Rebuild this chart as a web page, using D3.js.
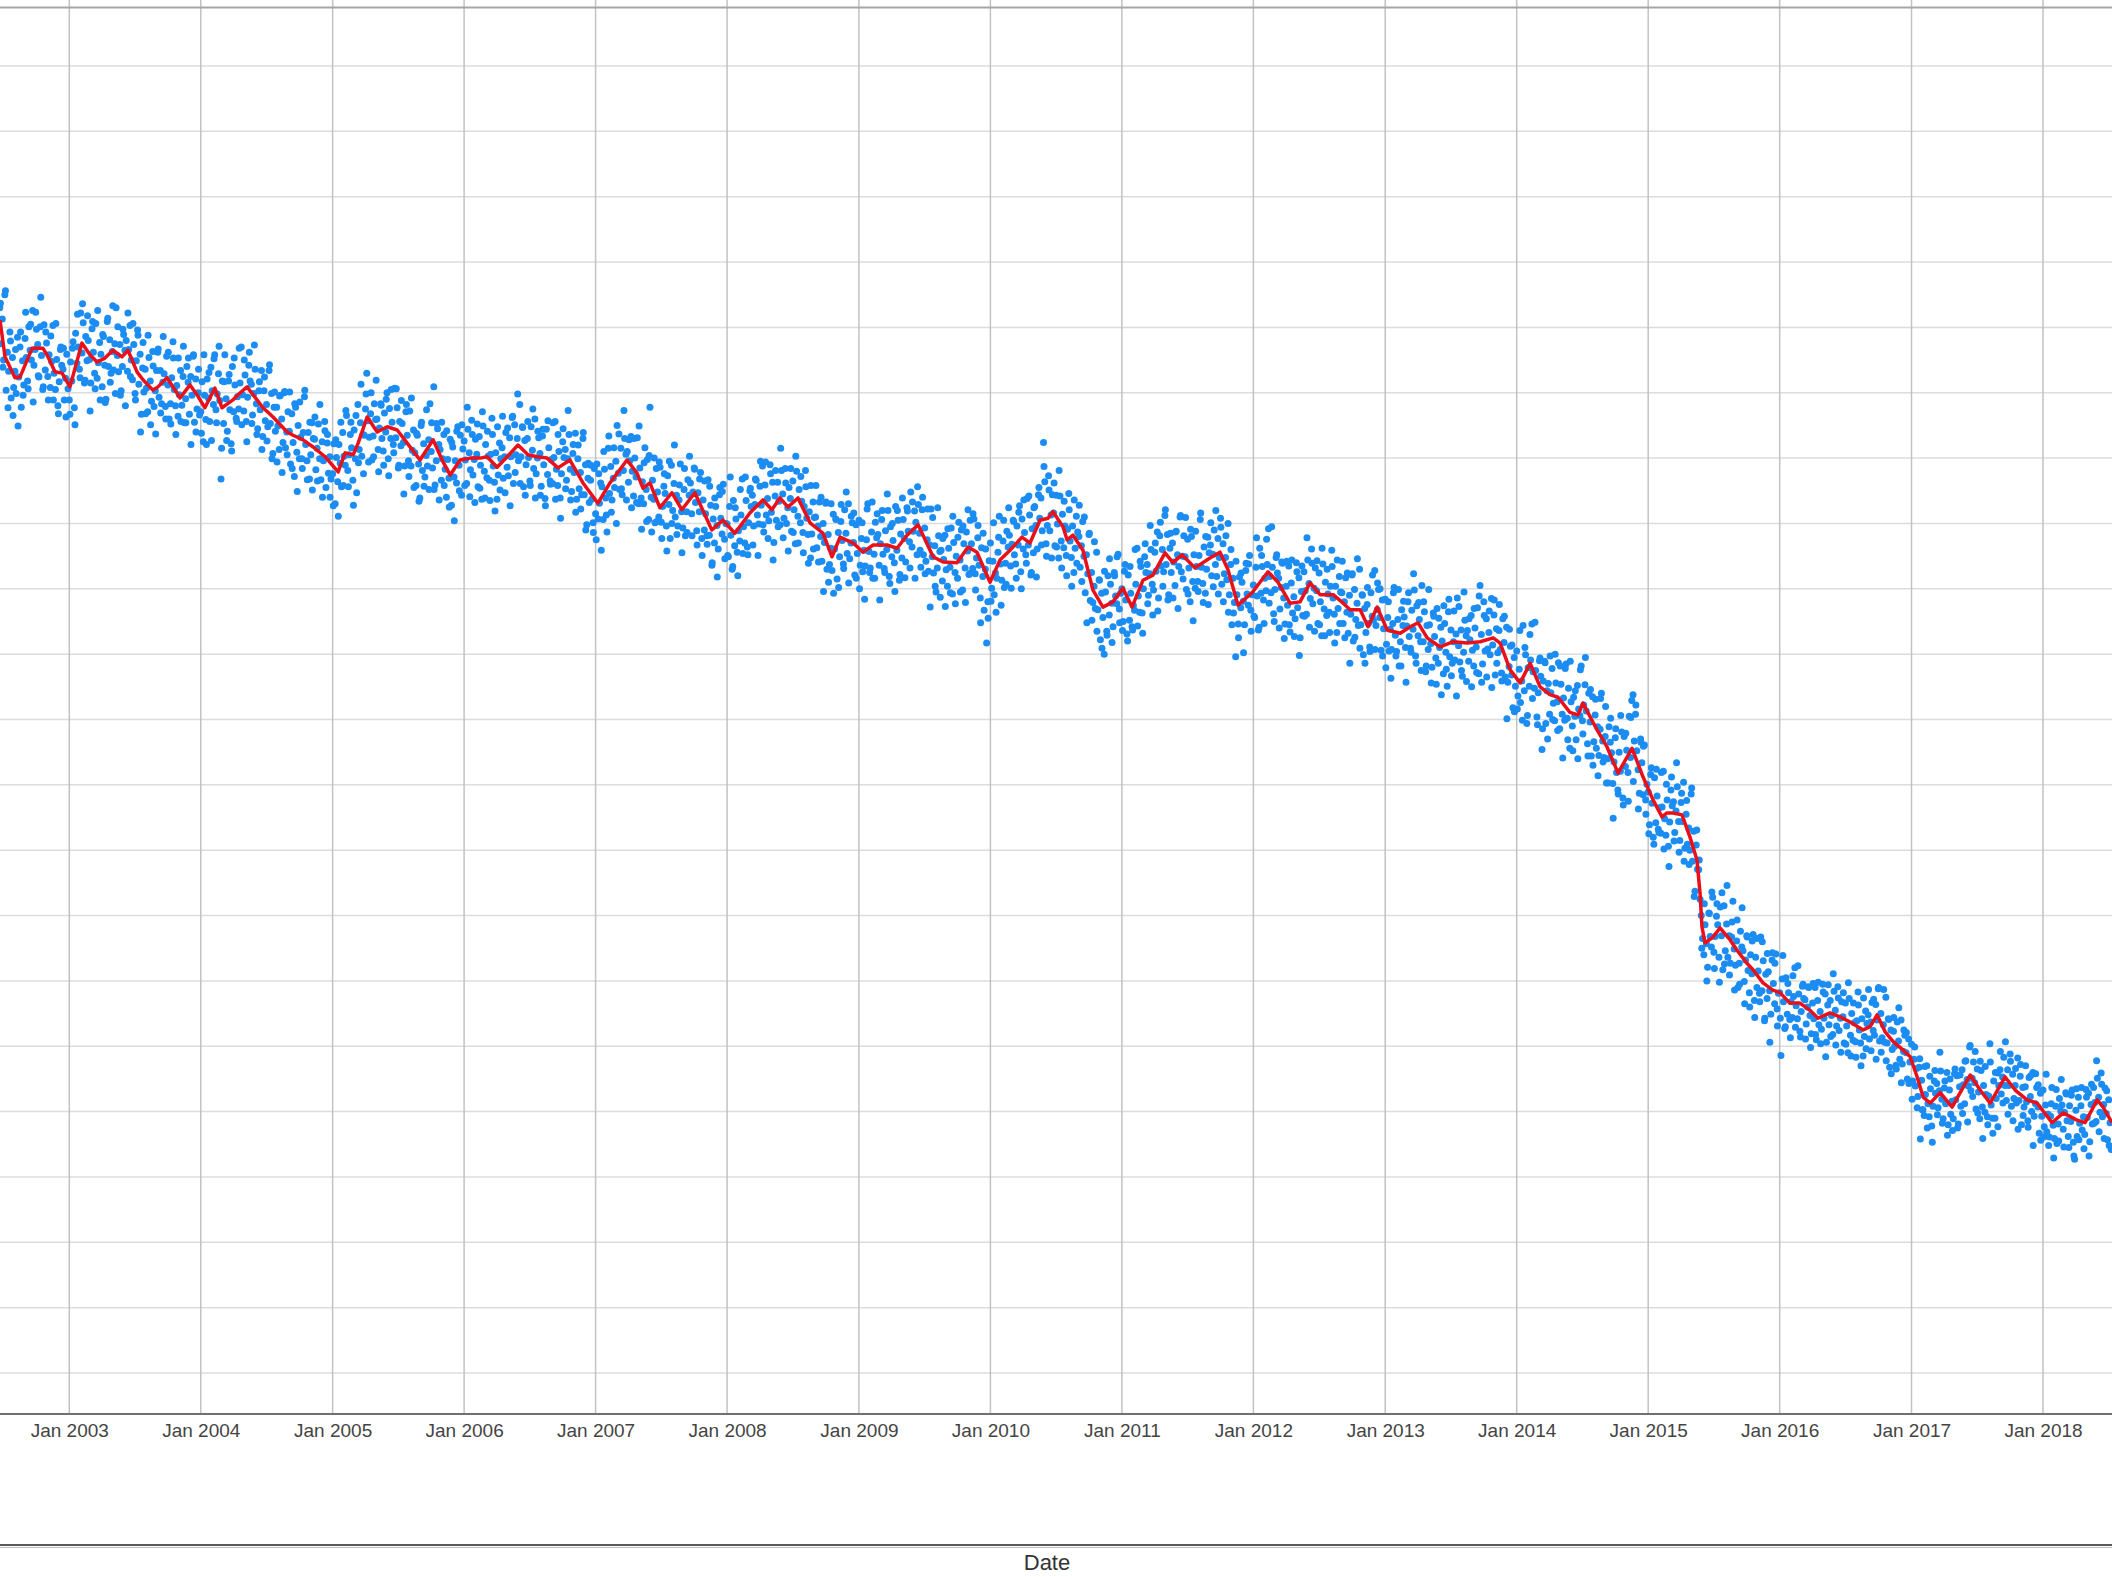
<!DOCTYPE html>
<html><head><meta charset="utf-8">
<script src="https://cdn.jsdelivr.net/npm/d3@7"></script>
<style>html,body{margin:0;padding:0;background:#fff;overflow:hidden}</style>
</head><body>
<svg id="chart" width="2112" height="1577"></svg>
<script>
// ---------------- DATA ----------------
const xTickDates = ["2003-01-01","2004-01-01","2005-01-01","2006-01-01","2007-01-01","2008-01-01","2009-01-01","2010-01-01","2011-01-01","2012-01-01","2013-01-01","2014-01-01","2015-01-01","2016-01-01","2017-01-01","2018-01-01"];
const yGridValues = [10,20,30,40,50,60,70,80,90,100,110,120,130,140,150,160,170,180,190,200,210];
const xAxisTitle = "Date";

// red trend line: decimal year / value
const redYears = [
2002.473,2002.511,2002.587,2002.625,2002.717,2002.800,2002.830,2002.891,2002.945,2003.005,
2003.096,2003.157,2003.211,2003.271,2003.332,2003.401,2003.446,2003.515,2003.560,2003.636,
2003.674,2003.743,2003.789,2003.842,2003.918,2003.971,2004.031,2004.107,2004.161,2004.244,
2004.282,2004.351,2004.472,2004.548,2004.655,2004.700,2004.776,2004.852,2004.944,2005.042,
2005.095,2005.156,2005.194,2005.263,2005.339,2005.415,2005.491,2005.567,2005.665,2005.764,
2005.833,2005.894,2005.970,2006.046,2006.122,2006.175,2006.251,2006.327,2006.410,2006.486,
2006.555,2006.631,2006.714,2006.805,2006.904,2007.018,2007.109,2007.239,2007.315,2007.360,
2007.413,2007.489,2007.580,2007.656,2007.755,2007.884,2007.968,2008.059,2008.173,2008.272,
2008.340,2008.401,2008.462,2008.538,2008.629,2008.728,2008.796,2008.857,2008.956,2009.032,
2009.108,2009.214,2009.290,2009.366,2009.450,2009.564,2009.640,2009.746,2009.830,2009.898,
2009.997,2010.073,2010.149,2010.240,2010.301,2010.377,2010.438,2010.476,2010.552,2010.583,
2010.628,2010.704,2010.780,2010.856,2010.932,2011.008,2011.077,2011.160,2011.236,2011.328,
2011.388,2011.457,2011.556,2011.670,2011.746,2011.807,2011.883,2011.990,2012.111,2012.187,
2012.278,2012.354,2012.430,2012.506,2012.605,2012.681,2012.734,2012.810,2012.870,2012.939,
2013.015,2013.114,2013.190,2013.250,2013.319,2013.418,2013.517,2013.623,2013.722,2013.821,
2013.874,2013.950,2014.026,2014.102,2014.178,2014.253,2014.314,2014.405,2014.466,2014.504,
2014.611,2014.687,2014.771,2014.877,2014.961,2015.037,2015.105,2015.143,2015.189,2015.257,
2015.318,2015.371,2015.394,2015.409,2015.432,2015.493,2015.546,2015.622,2015.675,2015.751,
2015.797,2015.873,2015.949,2016.002,2016.078,2016.154,2016.230,2016.291,2016.382,2016.458,
2016.534,2016.633,2016.686,2016.739,2016.800,2016.861,2016.937,2016.990,2017.043,2017.089,
2017.142,2017.218,2017.309,2017.370,2017.446,2017.522,2017.598,2017.712,2017.788,2017.879,
2017.955,2018.069,2018.153,2018.259,2018.320,2018.412,2018.457,2018.525];
const redValues = [
171.1,165.5,162.3,162.4,166.8,166.8,165.8,163.2,163.0,160.9,
167.6,165.8,164.7,165.3,166.5,165.5,166.5,163.2,162.0,160.4,
160.9,162.3,160.9,159.2,161.2,159.7,157.7,160.7,157.7,158.9,
159.7,160.9,157.7,156.3,154.0,153.5,152.8,151.7,150.2,147.9,
150.8,150.5,152.3,156.3,154.0,154.8,154.3,152.3,149.7,152.8,
149.7,147.4,149.7,150.0,150.0,150.2,148.6,150.2,152.0,150.5,
150.2,150.0,148.5,149.7,146.2,143.1,146.2,149.7,147.7,145.4,
146.2,142.4,144.7,142.1,144.7,139.0,140.5,138.5,141.6,143.6,
142.1,143.9,142.5,143.9,140.1,138.5,134.9,137.9,137.0,135.6,
136.7,136.7,136.2,138.2,139.8,134.9,134.1,134.0,136.4,135.6,
131.0,134.4,135.9,137.9,137.0,140.5,140.8,141.8,139.5,137.5,
138.2,135.9,129.8,127.2,128.0,130.1,127.2,131.3,132.1,135.5,
134.0,135.2,133.2,134.7,135.6,132.9,127.5,129.4,132.6,131.0,
127.8,128.0,130.9,129.1,129.1,127.8,126.8,126.8,124.2,127.2,
123.7,123.2,124.2,124.8,122.5,121.1,121.9,121.7,121.9,122.5,
121.7,117.6,115.6,118.6,115.0,113.8,113.4,111.1,110.7,112.5,
108.4,105.8,101.8,105.6,101.2,97.7,95.1,95.7,95.7,95.4,
92.0,88.5,83.5,78.3,75.8,76.7,78.1,76.3,74.7,72.7,
71.7,69.7,68.6,68.2,66.6,66.6,65.5,64.3,65.1,64.5,
63.7,62.5,63.0,64.8,62.2,60.7,59.4,58.4,55.3,52.2,
51.3,52.9,50.7,52.9,55.6,53.3,51.3,55.3,53.3,51.8,
51.3,48.3,49.8,48.7,48.3,51.8,50.7,48.3];

// blue scatter readings, one array per year (readings every ~3.5 days)
const dotStarts = ["2002-06-22","2003-01-01","2004-01-01","2005-01-01","2006-01-01","2007-01-01","2008-01-01","2009-01-01","2010-01-01","2011-01-01","2012-01-01","2013-01-01","2014-01-01","2015-01-01","2016-01-01","2017-01-01","2018-01-01"];
const dots2002 = [173.0,167.5,171.3,165.0,175.0,160.4,166.2,163.3,169.3,159.2,165.4,160.8,163.3,159.9,168.5,162.4,167.0,157.8,164.9,161.2,168.3,165.4,161.8,170.1,166.5,165.0,172.6,164.2,166.6,169.7,167.4,162.4,170.1,165.7,160.5,170.4,163.5,167.6,162.5,165.8,160.8,164.8,170.3,163.0,160.5,165.1,158.0,161.7,166.6,164.2,163.6,158.9,162.2,165.9,160.6];
const dots2003 = [158.9,164.7,161.8,167.8,157.7,169.1,164.5,167.0,163.6,172.2,166.1,170.7,161.5,168.6,164.9,168.0,165.1,161.5,169.8,166.2,163.0,170.6,162.2,164.6,167.7,165.9,160.9,168.6,164.2,159.0,170.9,164.0,168.1,163.0,166.3,163.5,167.5,173.0,165.7,163.2,167.4,160.3,164.0,168.9,166.5,168.0,163.3,166.6,170.3,165.0,162.0,167.4,159.9,164.9,169.6,161.3,165.9,156.7,163.8,160.1,163.6,160.7,157.1,165.4,161.8,158.7,166.3,157.9,160.3,163.4,166.2,159.3,163.4,158.3,161.6,162.9,157.9,165.6,161.2,156.0,158.3,162.3,167.8,160.5,158.0,161.1,156.4,159.7,163.4,158.1,162.5,155.4,159.1,164.0,161.6,156.7,162.5,159.6,165.6,155.5,162.1,157.5,160.0,156.6];
const dots2004 = [157.1,161.7,152.5,159.6,155.9,162.1,159.2,155.6,163.9,160.3,158.2,165.8,157.4,159.8,162.9,158.8,146.8,161.8,155.3,165.8,159.1,154.1,161.8,157.4,152.2,164.0,157.1,161.2,156.1,159.4,157.5,161.5,167.0,159.7,157.2,162.7,155.6,159.3,164.2,161.8,161.3,156.6,159.9,163.6,158.3,154.5,160.3,157.4,163.4,153.3,160.3,155.7,158.2,154.8,163.4,155.3,159.9,150.7,157.8,154.1,157.8,154.9,151.3,159.6,156.0,152.4,160.0,151.6,154.0,157.1,154.1,149.1,156.8,152.4,147.2,157.8,150.9,155.0,149.9,153.2,149.9,153.9,159.4,152.1,149.6,153.9,146.8,150.5,155.4,153.0,152.9,148.2,151.5,155.2,149.9,146.7,152.5,149.6,155.6,145.5,152.3,147.7,150.2,146.8];
const dots2005 = [147.6,152.2,143.0,150.1,146.4,152.1,149.2,145.6,153.9,150.3,148.9,156.5,148.1,150.5,153.6,151.6,146.6,154.3,149.9,144.7,158.2,151.3,155.4,150.3,153.6,153.5,157.5,163.0,155.7,153.2,156.8,149.7,153.4,158.3,155.9,156.0,151.3,154.6,158.3,153.0,151.1,156.9,154.0,160.0,149.9,157.6,153.0,155.5,152.1,160.7,153.1,157.7,148.5,155.6,151.9,155.3,152.4,148.8,157.1,153.5,149.6,157.2,148.8,151.2,154.3,150.8,145.8,153.5,149.1,143.9,155.0,148.1,152.2,147.1,150.4,148.8,152.8,158.3,151.0,148.5,160.9,145.9,149.6,154.5,152.1,151.3,146.6,149.9,153.6,148.3,144.0,149.8,146.9,152.9,142.8,151.7,147.1,149.6,146.2,154.8,148.9,153.5,144.3,151.4];
const dots2006 = [152.6,149.7,146.1,154.4,150.8,148.2,155.8,147.4,149.8,152.9,150.6,145.6,153.3,148.9,143.7,154.9,148.0,152.1,147.0,150.3,146.6,150.6,156.1,148.8,146.3,150.8,143.7,147.4,152.3,149.9,151.6,146.9,150.2,153.9,148.6,147.3,153.1,150.2,156.2,146.1,155.1,150.5,153.0,149.6,158.2,150.2,154.8,145.6,152.7,149.0,153.0,150.1,146.5,154.8,151.2,148.4,156.0,147.6,150.0,153.1,150.7,145.7,153.4,149.0,143.8,154.4,147.5,151.6,146.5,149.8,146.1,150.1,155.6,148.3,145.8,151.0,143.9,147.6,152.5,150.1,151.3,146.6,149.9,153.6,148.3,144.9,150.7,147.8,153.8,143.7,149.9,145.3,147.8,144.4,153.0,144.4,149.0,139.8,146.9,143.2,146.6,143.7,140.1,148.4];
const dots2007 = [141.5,149.1,140.7,143.1,146.2,145.6,140.6,148.3,143.9,138.7,151.5,144.6,148.7,143.6,146.9,145.5,149.5,155.0,147.7,145.2,151.5,144.4,148.1,153.0,150.6,151.0,146.3,149.6,153.3,148.0,144.2,150.0,147.1,153.1,143.0,148.5,143.9,146.4,143.0,151.6,145.2,149.8,140.6,157.8,144.0,146.6,143.7,140.1,148.4,144.8,141.0,148.6,140.2,142.6,145.7,144.6,139.6,147.3,142.9,137.7,148.9,142.0,146.1,141.0,144.3,139.6,143.6,149.1,141.8,139.3,145.2,138.1,141.8,146.7,144.3,146.2,141.5,144.8,148.5,143.2,138.9,144.7,141.8,147.8,137.7,143.6,139.0,141.5,138.1,146.7,138.2,142.8,133.6,140.7,137.0,142.6,139.7,136.1,144.4,140.8,138.4,146.0,137.6,140.0];
const dots2008 = [139.9,134.9,142.6,138.2,133.0,143.5,136.6,140.7,135.6,138.9,137.3,141.3,146.8,139.5,137.0,143.5,136.4,140.1,145.0,142.6,144.3,139.6,142.9,146.6,141.3,139.9,145.7,142.8,148.8,138.7,145.9,141.3,143.8,140.4,149.0,141.7,146.3,137.1,144.2,140.5,146.3,143.4,139.8,148.1,144.5,140.8,148.4,140.0,142.4,145.5,143.8,138.8,146.5,142.1,136.9,148.0,141.1,145.2,140.1,143.4,138.6,142.6,148.1,140.8,138.3,141.8,134.7,138.4,143.3,140.9,141.0,136.3,139.6,143.3,138.0,134.2,140.0,137.1,143.1,133.0,138.3,133.7,136.2,132.8,141.4,136.1,140.7,131.5,138.6,134.9,140.3,137.4,133.8,142.1,138.5,135.4,143.0,134.6,137.0,140.1,137.1,132.1,139.8,135.4];
const dots2009 = [140.5,133.6,137.7,132.6,135.9,133.5,137.5,143.0,135.7,133.2,138.7,131.6,135.3,140.2,137.8,138.3,133.6,136.9,140.6,135.3,133.1,138.9,136.0,142.0,131.9,139.5,134.9,137.4,134.0,142.6,135.9,140.5,131.3,138.4,134.7,140.6,137.7,134.1,142.4,138.8,137.2,144.8,136.4,138.8,141.9,140.2,135.2,142.9,138.5,133.3,142.1,135.2,139.3,134.2,137.5,132.7,136.7,142.2,134.9,132.4,136.6,129.5,133.2,138.1,135.7,135.9,131.2,134.5,138.2,132.9,130.4,136.2,133.3,139.3,129.2,137.1,132.5,135.0,131.6,140.2,134.4,139.0,129.8,136.9,133.2,138.7,135.8,132.2,140.5,136.9,133.1,140.7,132.3,134.7,137.8,133.6,128.6,136.3,131.9,126.7,133.0,121.7,128.0,134.3];
const dots2010 = [137.0,130.1,134.2,129.1,132.4,131.6,135.6,141.1,133.8,131.3,137.3,130.2,133.9,138.8,136.4,138.2,133.5,136.8,140.5,135.2,133.8,139.6,136.7,142.7,132.6,140.7,136.1,138.6,135.2,143.8,136.7,141.3,132.1,139.2,135.5,142.6,139.7,136.1,144.4,140.8,143.9,138.9,152.4,146.4,136.9,139.7,147.3,138.9,141.3,144.4,141.6,136.6,144.3,139.9,134.7,144.2,137.3,141.4,136.3,139.6,135.1,139.1,144.6,137.3,134.8,139.6,132.5,136.2,141.1,138.7,138.0,133.3,136.6,140.3,135.0,129.4,135.2,132.3,138.3,128.2,132.5,127.9,130.4,127.0,135.6,126.8,131.4,122.2,129.3,125.6,120.0,129.5,123.5,132.0,126.0,130.7,127.8,124.2,132.5,128.9,127.7,135.3,126.9,129.3];
const dots2011 = [130.0,125.0,132.7,128.3,123.1,132.1,125.2,129.3,124.2,127.5,126.7,130.7,136.2,128.9,126.4,133.4,126.3,130.0,134.9,132.5,133.7,129.0,132.3,136.0,130.7,129.8,135.6,132.7,138.7,128.6,138.1,133.5,136.0,132.6,141.2,133.7,138.3,129.1,136.2,132.5,137.0,134.1,130.5,138.8,135.2,133.4,141.0,132.6,135.0,138.1,134.9,129.9,137.6,133.2,128.0,138.0,131.1,135.2,130.1,133.4,131.1,135.1,140.6,133.3,130.8,136.4,129.3,133.0,137.9,135.5,136.7,132.0,135.3,139.0,133.7,131.9,137.7,134.8,140.8,130.7,136.9,132.3,134.8,131.4,140.0,129.1,133.7,124.5,131.6,127.9,119.6,129.1,124.6,131.8,127.1,131.0,128.1,124.5,132.8,129.2,127.5,135.1,126.7,129.1];
const dots2012 = [130.6,125.6,133.3,128.9,123.7,136.2,129.3,133.4,128.3,131.6,129.7,133.7,139.2,131.9,129.4,133.3,126.2,129.9,134.8,132.4,131.6,126.9,130.2,133.9,128.6,124.6,130.4,127.5,133.5,123.4,130.9,126.3,128.8,125.4,134.0,127.1,131.7,122.5,129.6,125.9,132.6,129.7,126.1,134.4,130.8,128.5,136.1,127.7,130.1,133.2,129.7,124.7,132.4,128.0,122.8,133.8,126.9,131.0,125.9,129.2,126.4,130.4,135.9,128.6,126.1,130.4,123.3,127.0,131.9,129.5,129.4,124.7,128.0,131.7,126.4,123.2,129.0,126.1,132.1,122.0,129.9,125.3,127.8,124.4,133.0,124.5,129.1,119.9,127.0,123.3,127.6,124.7,121.1,129.4,125.8,125.2,132.8,124.4,126.8,129.9,125.6,120.6,128.3,123.9];
const dots2013 = [128.4,121.5,125.6,120.5,123.8,120.7,124.7,130.2,122.9,120.4,125.3,118.2,121.9,126.8,124.4,125.7,121.0,124.3,128.0,122.7,120.9,126.7,123.8,129.8,119.7,127.4,122.8,125.3,121.9,130.5,121.9,126.5,117.3,124.4,120.7,124.5,121.6,118.0,126.3,122.7,119.4,127.0,118.6,121.0,124.1,122.0,117.0,124.7,120.3,115.1,126.5,119.6,123.7,118.6,121.9,119.1,123.1,128.6,121.3,118.8,123.7,116.6,120.3,125.2,122.8,123.6,118.9,122.2,125.9,120.6,118.2,124.0,121.1,127.1,117.0,130.5,123.0,118.5,128.0,120.5,125.4,120.8,123.3,119.9,128.5,121.4,126.0,116.8,123.9,120.2,123.6,120.7,117.1,125.4,121.8,116.5,124.1,115.7,118.1,121.2,116.8,111.8,119.5,115.1];
const dots2014 = [120.5,113.6,117.7,112.6,115.9,124.4,114.4,119.9,109.4,117.9,115.1,119.1,124.6,117.3,114.8,117.5,110.4,114.1,119.0,116.6,105.4,115.9,118.9,109.4,114.4,115.5,110.8,114.1,117.8,112.5,109.8,115.6,112.7,118.7,108.6,115.4,110.8,113.3,109.9,118.5,110.2,114.8,105.6,112.7,109.0,113.4,110.5,106.9,115.2,111.6,110.6,118.2,109.8,112.2,115.3,111.3,106.3,114.0,109.6,104.4,113.5,106.6,110.7,105.6,108.9,104.5,108.5,114.0,106.7,104.2,107.4,100.3,104.0,108.9,106.5,104.9,100.2,103.5,107.2,101.9,99.2,105.0,102.1,108.1,98.0,107.4,102.8,105.3,101.9,110.5,104.2,112.9,113.8,106.7,110.8,105.2,102.3,98.7,107.0,103.4,98.5,106.1,97.7,100.1];
const dots2015 = [98.9,93.9,101.6,97.2,92.0,101.1,94.2,98.3,93.2,96.5,92.6,96.6,102.1,94.8,92.3,97.7,90.6,94.3,99.2,96.8,97.4,92.7,96.0,99.7,94.4,91.5,97.3,94.4,100.4,90.3,95.5,90.9,93.4,90.0,98.6,88.3,92.9,83.7,90.8,87.1,87.0,82.5,80.0,76.5,74.0,78.6,75.7,72.1,80.4,76.8,75.2,82.8,74.4,76.8,79.9,78.6,73.6,81.3,76.9,71.7,81.5,74.6,78.7,73.6,76.9,72.7,76.7,82.2,74.9,72.4,76.1,69.0,72.7,77.6,75.2,74.6,69.9,73.2,76.9,71.6,68.2,74.0,71.1,77.1,67.0,73.6,69.0,71.5,68.1,76.7,68.5,73.1,63.9,71.0,67.3,71.4,68.5,64.9,73.2,69.6,66.5,74.1,65.7,68.1];
const dots2016 = [68.2,58.6,70.3,66.8,62.7,70.5,64.9,68.2,64.1,66.8,64.4,67.6,72.0,66.2,64.2,68.0,62.3,65.3,69.2,67.3,67.1,63.4,66.0,69.0,64.7,61.9,66.6,64.2,69.0,61.0,67.0,63.3,65.3,62.6,69.5,64.3,68.0,60.6,66.3,63.3,67.0,64.7,61.8,68.4,65.5,63.1,69.1,62.4,64.3,66.8,64.5,60.5,66.6,63.1,59.0,67.3,61.7,65.0,60.9,63.6,60.7,63.9,68.3,62.5,60.5,64.2,58.5,61.5,65.4,63.5,64.8,61.1,63.7,66.7,62.4,61.7,66.4,64.0,68.8,60.8,65.0,61.3,63.3,60.6,67.5,60.5,64.2,56.8,62.5,59.5,62.3,60.0,57.1,63.7,60.8,58.0,64.0,57.3,59.2,61.7,59.0,55.0,61.1,57.6];
const dots2017 = [60.3,54.7,58.0,53.9,56.6,52.3,56.8,45.8,54.8,50.3,49.4,52.6,57.0,51.2,49.2,53.5,47.8,50.8,54.7,52.8,54.3,50.6,53.2,56.2,51.9,48.9,53.6,51.2,56.0,48.0,53.3,49.6,51.6,48.9,55.8,51.8,55.5,48.1,53.8,50.8,56.4,54.1,51.2,57.8,54.9,53.9,59.9,53.2,55.1,57.6,54.4,50.4,56.5,53.0,48.9,56.3,50.7,54.0,49.9,52.6,49.2,52.4,60.4,51.0,49.0,54.7,49.0,52.0,55.9,54.0,56.4,52.7,55.3,58.3,54.0,51.7,56.4,54.0,58.8,50.8,55.7,52.0,54.0,51.3,58.2,51.7,55.4,48.0,53.7,50.7,53.8,51.5,48.6,55.2,52.3,50.0,56.0,49.3,51.2,53.7,50.7,46.7,52.8,49.3];
const dots2018 = [53.3,47.7,51.0,46.9,49.6,46.1,49.3,53.7,47.9,45.9,50.8,45.1,48.1,52.0,50.1,51.0,47.3,49.9,52.9,48.6,46.2,50.9,48.5,53.3,45.3,42.7,50.2,46.2,52.2,48.2,50.9,47.2,49.2,46.5,53.4,49.1,52.8,45.4,51.1,48.1,53.7,51.4,48.5,55.1,52.2,49.9,55.9,49.2,51.1,53.6,49.7,45.7,51.8,48.3,44.2];

// outer scatter readings (weekly, offset 1.75 days from the year starts)
const wide2002 = [173.7,163.9,175.6,157.7,167.9,156.5,166.6,154.9,169.3,159.6,172.3,160.6,170.5,158.6,172.3,162.6,174.6,160.9,169.3,158.9,168.7,158.9,170.6,156.8,167.0,166.8,156.3];
const wide2003 = [156.7,166.8,155.1,172.0,162.3,173.6,161.9,171.8,157.2,170.9,160.6,172.6,158.9,168.9,158.5,171.4,161.6,173.3,159.9,170.1,159.6,169.7,158.0,172.2,162.5,170.6,158.9,168.8,154.0,167.7,156.8,168.8,155.1,164.1,153.7,166.7,156.9,168.6,156.0,166.2,155.2,165.3,153.6,165.3,155.6,167.1,155.4,165.3,152.1,165.8,154.0,163.6];
const wide2004 = [153.8,165.8,152.1,163.1,152.7,165.2,155.4,167.1,151.5,161.7,152.7,162.8,151.1,165.3,155.6,166.8,155.1,165.0,152.5,166.2,155.3,167.3,153.6,161.7,151.3,162.4,152.6,164.3,149.9,160.1,149.4,159.5,147.8,160.2,150.5,160.1,148.4,158.3,144.9,158.6,148.4,160.4,146.7,155.5,145.1,156.3,146.5,158.2,144.0,154.2,153.6,144.0];
const wide2005 = [142.7,152.8,141.1,155.5,145.8,157.3,145.6,155.5,142.8,156.5,149.3,161.3,147.6,159.8,149.4,160.0,150.2,161.9,147.9,158.1,148.9,159.0,147.3,160.5,150.8,160.6,148.9,158.8,144.5,158.2,147.2,159.2,145.5,153.8,143.4,155.5,145.7,157.4,145.2,155.4,145.2,155.3,143.6,155.5,145.8,154.2,142.5,152.4,140.4,154.1,145.0,155.1];
const wide2006 = [145.8,157.8,144.1,153.6,143.2,155.2,145.4,157.1,143.9,154.1,143.5,153.6,141.9,154.8,145.1,156.4,144.7,154.6,142.7,156.4,147.8,159.8,146.1,154.7,144.3,155.6,145.8,157.5,143.9,154.1,144.3,154.4,142.7,155.7,146.0,155.4,143.7,153.6,140.8,154.5,145.3,157.3,143.6,152.1,141.7,152.0,142.2,153.9,139.0,149.2,148.9,138.6];
const wide2007 = [137.5,147.6,135.9,151.0,141.3,153.4,141.7,151.6,140.0,153.7,145.3,157.3,143.6,152.8,142.4,153.0,143.2,154.9,139.1,149.3,140.3,150.4,138.7,150.0,140.3,149.4,137.7,147.6,135.8,149.5,140.0,152.0,138.3,145.9,135.5,148.4,138.6,150.3,138.1,148.3,136.7,146.8,135.1,146.5,136.8,145.7,134.0,143.9,131.8,145.5,144.9,134.6];
const wide2008 = [135.1,147.1,133.4,142.4,132.0,145.2,135.4,147.1,135.2,145.4,136.7,146.8,135.1,149.5,139.8,149.4,137.7,147.6,134.4,148.1,139.5,151.5,137.8,146.2,135.8,148.4,138.6,150.3,137.0,147.2,135.5,145.6,133.9,145.8,136.1,145.8,134.1,144.0,129.6,143.3,131.0,143.0,129.3,140.6,130.2,142.9,133.1,144.8,130.9,141.1,141.6,131.6];
const wide2009 = [130.0,140.1,128.4,142.2,132.5,143.3,131.6,141.5,128.3,142.0,132.5,144.5,130.8,140.0,129.6,142.0,132.2,143.9,131.7,141.9,133.2,143.3,131.6,145.6,135.9,144.0,132.3,142.2,127.2,140.9,130.4,142.4,128.7,137.7,127.3,139.2,129.4,141.1,127.7,137.9,129.5,139.6,127.9,142.1,132.4,141.5,129.8,139.7,124.8,138.5,136.1,125.5];
const wide2010 = [128.1,140.1,126.4,137.9,127.5,140.5,130.7,142.4,130.1,140.3,131.6,141.7,130.0,143.6,133.9,144.2,132.5,142.4,131.8,145.5,136.7,148.7,135.0,145.1,134.7,146.2,136.4,148.1,133.2,143.4,132.0,142.1,130.4,143.6,133.9,142.8,131.1,141.0,124.8,138.5,125.2,137.2,123.5,131.3,120.9,132.7,122.9,134.6,121.8,132.0,134.9,124.8];
const wide2011 = [123.6,133.7,122.0,133.4,123.7,136.0,124.3,134.2,123.2,136.9,127.7,139.7,126.0,137.0,126.6,140.2,130.4,142.1,128.3,138.5,128.6,138.7,127.0,141.2,131.5,140.9,129.2,139.1,125.1,138.8,129.6,141.6,127.9,138.0,127.6,140.1,130.3,142.0,129.2,139.4,128.0,138.1,126.4,136.0,126.3,134.2,122.5,132.4,120.2,133.9,133.8,123.5];
const wide2012 = [125.8,137.8,124.1,135.1,124.7,137.6,127.8,139.5,125.0,135.2,124.0,134.1,122.4,134.2,124.5,134.4,122.7,132.6,119.8,133.5,125.8,137.8,124.1,133.9,123.5,134.3,124.5,136.2,122.8,133.0,123.3,133.4,121.7,134.4,124.7,134.2,122.5,132.4,118.6,132.3,122.6,134.6,120.9,129.0,118.6,130.2,120.4,132.1,120.7,130.9,130.0,119.7];
const wide2013 = [117.9,128.0,116.3,129.4,119.7,129.9,118.2,128.1,115.7,129.4,120.3,132.3,118.6,127.9,117.5,128.0,118.2,129.9,115.6,125.8,115.4,125.5,113.8,127.4,117.7,128.4,116.7,126.6,113.6,127.3,117.5,129.5,115.8,125.4,115.0,127.0,117.2,128.9,115.7,125.9,116.5,126.6,114.9,128.3,118.6,127.6,115.9,125.8,110.1,123.8,121.4,111.2];
const wide2014 = [111.6,123.6,109.9,121.0,110.6,123.0,113.2,124.9,109.2,119.4,108.6,118.7,107.0,119.7,110.0,120.0,108.3,118.2,104.1,117.8,106.9,118.9,105.2,114.4,104.0,117.6,107.8,119.5,104.4,114.6,103.0,113.1,101.4,113.2,103.5,112.0,100.3,110.2,94.9,108.6,98.6,110.6,96.9,107.9,97.5,110.3,100.5,112.2,96.3,106.5,105.9,95.5];
const wide2015 = [92.5,102.6,90.9,102.4,92.7,101.9,90.2,100.1,87.5,101.2,91.4,103.4,89.7,98.7,88.3,97.6,87.8,99.5,82.9,93.1,88.5,75.0,81.8,70.0,80.3,83.6,71.9,81.8,69.8,83.5,72.6,84.6,70.9,79.0,68.6,79.3,69.5,81.2,66.5,76.7,66.0,76.1,64.4,76.5,66.8,76.0,64.3,74.2,60.6,74.3,72.7,63.1];
const wide2016 = [64.3,73.9,63.0,69.6,61.3,70.8,62.9,72.3,61.4,69.5,61.1,69.1,59.8,69.6,61.8,69.8,60.4,68.3,58.4,69.4,61.5,71.1,60.2,67.4,59.1,68.2,60.3,69.7,58.5,66.6,58.3,66.3,57.0,67.4,59.6,68.7,59.3,67.2,58.0,69.0,59.1,68.7,57.8,64.1,55.8,64.4,56.5,65.9,54.4,62.5,62.1,54.3];
const wide2017 = [51.9,59.9,50.6,58.1,50.3,56.9,47.5,55.4,45.3,56.3,49.5,59.1,48.2,54.7,46.4,55.0,47.1,56.5,47.5,55.6,49.7,57.7,48.4,60.1,52.3,59.2,49.8,57.7,45.9,56.9,48.0,57.6,46.7,56.0,47.7,59.2,51.3,60.7,49.6,57.7,48.6,56.6,47.3,57.2,49.4,57.0,47.6,55.5,44.8,55.8,54.1,45.6];
const wide2018 = [46.1,55.7,44.8,51.2,42.9,53.4,45.5,54.9,44.6,52.7,44.5,52.5,43.2,53.5,45.7,53.7,44.3,52.2,43.2,54.2,48.2,57.8,46.9,54.2,45.9,53.2,44.8];

const dotYears = [dots2002,dots2003,dots2004,dots2005,dots2006,dots2007,dots2008,dots2009,dots2010,dots2011,dots2012,dots2013,dots2014,dots2015,dots2016,dots2017,dots2018];
const wideYears = [wide2002,wide2003,wide2004,wide2005,wide2006,wide2007,wide2008,wide2009,wide2010,wide2011,wide2012,wide2013,wide2014,wide2015,wide2016,wide2017,wide2018];
const readingStepDays = 365 / 104;
const wideStepDays = 7, wideOffsetDays = 1.75;

// ---------------- CHART ----------------
const W = 2112, H = 1577;
const plotTop = 7.5, plotBottom = 1414;
const parse = d3.utcParse("%Y-%m-%d");
const DAY = 864e5;

function fromDecimalYear(d) {
  const yr = Math.floor(d);
  const s = Date.UTC(yr, 0, 1), e = Date.UTC(yr + 1, 0, 1);
  return new Date(s + (d - yr) * (e - s));
}

const redData = redYears.map((d, i) => ({ date: fromDecimalYear(d), value: redValues[i] }));
const dotData = [];
dotYears.forEach((arr, k) => {
  const start = parse(dotStarts[k]).getTime();
  arr.forEach((v, i) => dotData.push({ date: new Date(start + i * readingStepDays * DAY), value: v }));
});
wideYears.forEach((arr, k) => {
  const start = parse(dotStarts[k]).getTime() + wideOffsetDays * DAY;
  arr.forEach((v, i) => dotData.push({ date: new Date(start + i * wideStepDays * DAY), value: v }));
});

const x = d3.scaleUtc()
  .domain([parse("2003-01-01"), parse("2018-01-01")])
  .range([69.3, 2043]);
const y = d3.scaleLinear().domain([10, 210]).range([1373, 66]);

const svg = d3.select("#chart");
svg.append("rect").attr("width", W).attr("height", H).attr("fill", "#fff");

const defs = svg.append("defs");
defs.append("clipPath").attr("id", "plotClip")
  .append("rect").attr("x", 0).attr("y", plotTop).attr("width", W).attr("height", plotBottom - plotTop);

// horizontal gridlines
svg.append("g").selectAll("line").data(yGridValues).join("line")
  .attr("x1", 0).attr("x2", W)
  .attr("y1", d => y(d)).attr("y2", d => y(d))
  .attr("stroke", "#dcdcdc").attr("stroke-width", 1.5);

// vertical gridlines
const tickDates = xTickDates.map(parse);
svg.append("g").selectAll("line").data(tickDates).join("line")
  .attr("x1", d => x(d)).attr("x2", d => x(d))
  .attr("y1", 0).attr("y2", plotBottom)
  .attr("stroke", "#c2c2c2").attr("stroke-width", 1.5);

// top frame line
svg.append("line").attr("x1", 0).attr("x2", W).attr("y1", plotTop).attr("y2", plotTop)
  .attr("stroke", "#a6a6a6").attr("stroke-width", 2);

const plot = svg.append("g").attr("clip-path", "url(#plotClip)");

plot.append("g").selectAll("circle").data(dotData).join("circle")
  .attr("cx", d => x(d.date)).attr("cy", d => y(d.value))
  .attr("r", 3.5).attr("fill", "#1b8cf2");

const line = d3.line().x(d => x(d.date)).y(d => y(d.value));
plot.append("path").datum(redData)
  .attr("d", line).attr("fill", "none")
  .attr("stroke", "#e8101a").attr("stroke-width", 3.5).attr("stroke-linejoin", "round");

// x axis
const xAxis = d3.axisBottom(x).tickValues(tickDates)
  .tickFormat(d3.utcFormat("%b %Y")).tickSize(0).tickPadding(10);
const gx = svg.append("g").attr("transform", `translate(0,${plotBottom})`).call(xAxis);
gx.select(".domain").remove();
gx.selectAll("text").attr("font-family", "'Liberation Sans', Arial, sans-serif")
  .attr("font-size", 19).attr("fill", "#444");

svg.append("line").attr("x1", 0).attr("x2", W).attr("y1", plotBottom).attr("y2", plotBottom)
  .attr("stroke", "#707070").attr("stroke-width", 2);

// lower frame rule and axis title
svg.append("line").attr("x1", 0).attr("x2", W).attr("y1", 1545).attr("y2", 1545)
  .attr("stroke", "#5a5a5a").attr("stroke-width", 2);
svg.append("line").attr("x1", 0).attr("x2", W).attr("y1", 1547.5).attr("y2", 1547.5)
  .attr("stroke", "#bdbdbd").attr("stroke-width", 1.2);
svg.append("text").attr("x", 1047).attr("y", 1570)
  .attr("text-anchor", "middle")
  .attr("font-family", "'Liberation Sans', Arial, sans-serif")
  .attr("font-size", 22).attr("fill", "#333").text(xAxisTitle);
</script>
</body></html>
